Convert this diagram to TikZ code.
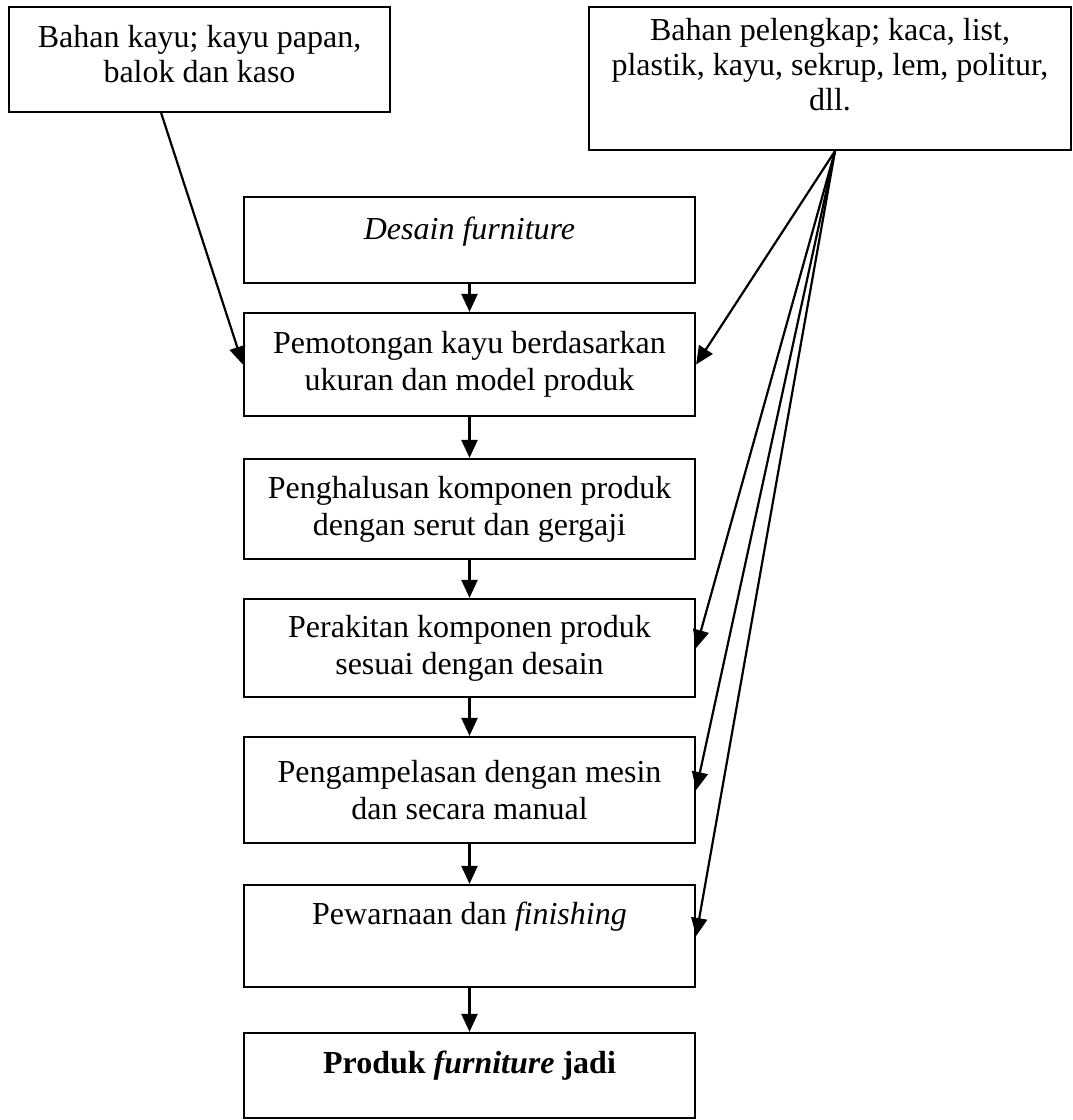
\documentclass[tikz,border=0pt]{standalone}
\usepackage{amsmath}
\usepackage{xcolor}
\usepackage{fontspec}
\setmainfont{Liberation Serif}
\usepackage{tikz}
\usetikzlibrary{arrows.meta,calc}

\tikzset{
  kotak/.style={draw,line width=2.2pt,rectangle,inner sep=0pt,align=center,
    font=\fontsize{32}{37}\selectfont},
  bahan/.style={kotak,font=\fontsize{32}{35}\selectfont},
  proses/.style={kotak,minimum width=451pt},
  panah/.style={line width=2.2pt,-{Triangle[length=18pt,width=16pt]}}
}

\begin{document}
\begin{tikzpicture}[x=1pt,y=-1pt]
					\useasboundingbox (0,0) rectangle (1073,1120);

					\node[bahan,minimum width=381pt,minimum height=105pt,text depth=11pt] (kayu) at (199.5,59.5) {Bahan kayu; kayu papan,\\balok dan kaso};
					\node[bahan,minimum width=482pt,minimum height=143pt,text depth=29pt] (lengkap) at (830,78.5) {Bahan pelengkap; kaca, list,\\plastik, kayu, sekrup, lem, politur,\\dll.};

					\node[proses,minimum height=86pt,text depth=24pt] (desain) at (469.5,240) {\textit{Desain furniture}};
					\node[proses,minimum height=103pt] (potong) at (469.5,364.5) {Pemotongan kayu berdasarkan\\ukuran dan model produk};
					\node[proses,minimum height=100pt] (halus) at (469.5,509) {Penghalusan komponen produk\\dengan serut dan gergaji};
					\node[proses,minimum height=98pt] (rakit) at (469.5,648) {Perakitan komponen produk\\sesuai dengan desain};
					\node[proses,minimum height=106pt] (ampelas) at (469.5,790) {Pengampelasan dengan mesin\\dan secara manual};
					\node[proses,minimum height=102pt,text depth=46pt] (warna) at (469.5,936) {Pewarnaan dan \textit{finishing}};
					\node[proses,minimum height=85pt,text depth=27pt] (produk) at (469.5,1075.5) {\textbf{Produk \textit{furniture} jadi}};

					\draw[panah] (desain) -- (potong);
					\draw[panah] (potong) -- (halus);
					\draw[panah] (halus) -- (rakit);
					\draw[panah] (rakit) -- (ampelas);
					\draw[panah] (ampelas) -- (warna);
					\draw[panah] (warna) -- (produk);

					\coordinate (pusat) at ($(lengkap.south)+(5,0)$);
					\draw[panah] ($(kayu.south west)!0.4!(kayu.south east)$) -- (potong.west);
					\draw[panah] (pusat) -- (potong.east);
					\draw[panah] (pusat) -- (rakit.east);
					\draw[panah] (pusat) -- (ampelas.east);
					\draw[panah] (pusat) -- (warna.east);
				\end{tikzpicture}
\end{document}
